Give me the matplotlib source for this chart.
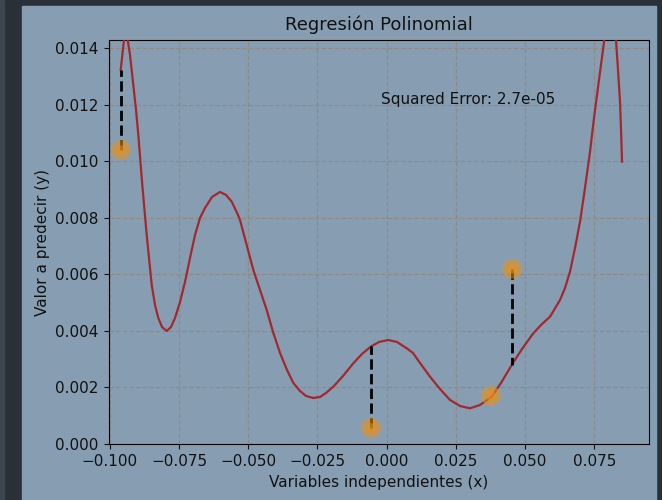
import numpy as np
import matplotlib
matplotlib.use("Agg")
import matplotlib.pyplot as plt
from matplotlib.patches import Rectangle

# fitted curve (x, prediction)
curve_x = [-0.09607, -0.09488, -0.09415, -0.09354, -0.09271, -0.09152, -0.09054, -0.08971,
           -0.08827, -0.08668, -0.08487, -0.08368, -0.08249, -0.08115, -0.07945, -0.07790,
           -0.07645, -0.07464, -0.07284, -0.07103, -0.06922, -0.06742, -0.06561, -0.06308,
           -0.06019, -0.05802, -0.05596, -0.05369, -0.05297, -0.05116, -0.04816, -0.04574,
           -0.04332, -0.04104, -0.03851, -0.03599, -0.03371, -0.03129, -0.02912, -0.02648,
           -0.02406, -0.02189, -0.01926, -0.01575, -0.01203, -0.00889, -0.00574, -0.00275,
           0.00061, 0.00376, 0.00726, 0.00954, 0.01207, 0.01568, 0.01929, 0.02291,
           0.02652, 0.03013, 0.03375, 0.03797, 0.04133, 0.04520, 0.04892, 0.05300,
           0.05615, 0.05904, 0.06265, 0.06446, 0.06626, 0.06807, 0.06988, 0.07168,
           0.07349, 0.07493, 0.07649, 0.07865, 0.08071, 0.08288, 0.08360, 0.08433,
           0.08469, 0.08505]
curve_y = [0.013222, 0.014283, 0.014636, 0.014283, 0.013752, 0.012692, 0.011808, 0.010924,
           0.009156, 0.007389, 0.005621, 0.004914, 0.004454, 0.004136, 0.003995, 0.004136,
           0.004454, 0.005020, 0.005727, 0.006576, 0.007389, 0.007990, 0.008343, 0.008732,
           0.008909, 0.008803, 0.008566, 0.008096, 0.007919, 0.007258, 0.006151, 0.005444,
           0.004737, 0.003960, 0.003217, 0.002616, 0.002157, 0.001874, 0.001697, 0.001626,
           0.001662, 0.001803, 0.002026, 0.002404, 0.002853, 0.003182, 0.003440, 0.003606,
           0.003677, 0.003606, 0.003383, 0.003217, 0.002864, 0.002379, 0.001944, 0.001556,
           0.001343, 0.001262, 0.001379, 0.001672, 0.002157, 0.002793, 0.003359, 0.003914,
           0.004242, 0.004500, 0.005091, 0.005515, 0.006091, 0.006929, 0.007859, 0.009050,
           0.010334, 0.011525, 0.012692, 0.014283, 0.014919, 0.014283, 0.013222, 0.012101,
           0.011101, 0.009980]

# observed points and their predictions
pts_x = [-0.0960, -0.0056, 0.0377, 0.0454]
pts_y = [0.01039, 0.00057, 0.00170, 0.00619]
pts_pred = [0.01322, 0.00345, 0.00170, 0.00279]

error_txt = "Squared Error: 2.7e-05"

fig = plt.figure(figsize=(6.62, 5.0), dpi=100, facecolor="#2a3037")
# light panel of the screenshot
fig.patches.append(Rectangle((22 / 662, 0), (656 - 22) / 662, 494 / 500,
                             transform=fig.transFigure, color="#879eb2", zorder=-10))
fig.patches.append(Rectangle((0, 0), 4 / 662, 1, transform=fig.transFigure,
                             color="#3b4650", zorder=-10))

ax = fig.add_axes([109 / 662, 56 / 500, 540 / 662, 404 / 500])
ax.set_facecolor("none")

ax.plot(curve_x, curve_y, color="#a3282d", lw=1.6, zorder=3)
for xi, yi, pi in zip(pts_x, pts_y, pts_pred):
    ax.plot([xi, xi], [yi, pi], "k--", lw=2, zorder=4)
ax.scatter(pts_x, pts_y, s=200, color="#f0900f", alpha=0.55, edgecolors="none", zorder=5)
ax.scatter(pts_x, pts_y, s=45, color="#f0900f", alpha=0.5, edgecolors="none", zorder=5)

ax.text(-0.0021, 0.01203, error_txt, fontsize=11, color="#111111")

ax.set_xlim(-0.1003, 0.0948)
ax.set_ylim(0, 0.01428)
ax.set_xticks(np.arange(-0.1, 0.076, 0.025))
ax.set_yticks(np.arange(0, 0.0141, 0.002))
ax.grid(True, ls="--", color="#8f8a86", lw=0.9)
ax.set_axisbelow(True)

ax.set_title("Regresión Polinomial", fontsize=13, color="#111111", pad=7)
ax.set_xlabel("Variables independientes (x)", fontsize=11, color="#111111")
ax.set_ylabel("Valor a predecir (y)", fontsize=11, color="#111111")
ax.tick_params(colors="#111111", labelsize=11, length=3.8)

fig.savefig("out.png", dpi=100, facecolor=fig.get_facecolor())
